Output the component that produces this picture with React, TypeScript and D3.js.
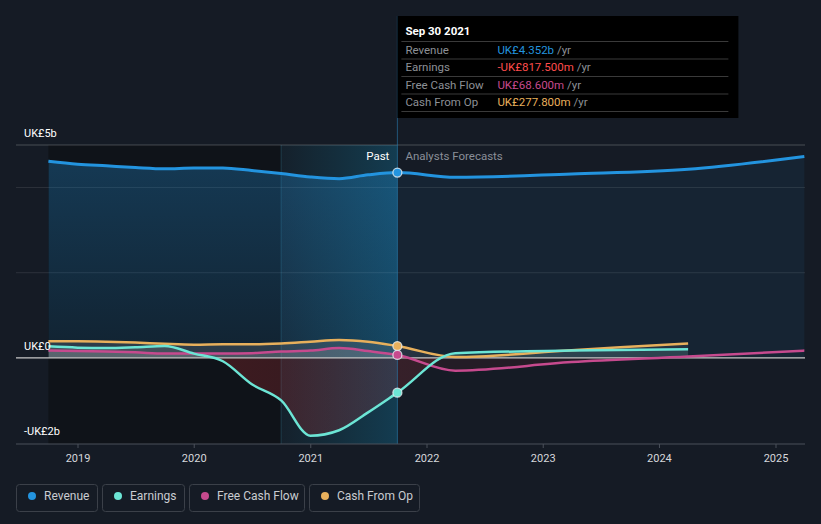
import * as d3 from "d3";

// quarterly history, then analyst forecasts (values in UK£ billions)
const pastDates = [
  "2018-09-30", "2018-12-31", "2019-03-31", "2019-06-30", "2019-09-30",
  "2019-12-31", "2020-03-31", "2020-06-30", "2020-09-30", "2020-12-31",
  "2021-03-31", "2021-06-30", "2021-09-30",
];
const revenuePast = [4.62, 4.55, 4.51, 4.47, 4.44, 4.46, 4.46, 4.4, 4.33, 4.25, 4.21, 4.3, 4.352];
const earningsPast = [0.27, 0.24, 0.23, 0.25, 0.28, 0.1, -0.08, -0.62, -1.0, -1.83, -1.7, -1.28, -0.8175];
const fcfPast = [0.17, 0.16, 0.15, 0.13, 0.1, 0.1, 0.1, 0.11, 0.15, 0.17, 0.23, 0.16, 0.0686];
const cfoPast = [0.39, 0.39, 0.38, 0.36, 0.33, 0.31, 0.32, 0.32, 0.34, 0.38, 0.42, 0.38, 0.2778];

const forecastDates = ["2022-03-31", "2023-03-31", "2024-03-31", "2025-03-31"];
const revenueFc = [4.24, 4.32, 4.43, 4.73];
const earningsFc = [0.11, 0.17, 0.2];
const fcfFc = [-0.3, -0.1, 0.03, 0.17];
const cfoFc = [0.02, 0.18, 0.34];

const yearTicks = [2019, 2020, 2021, 2022, 2023, 2024, 2025];
const yLabels = [
  { v: 5, t: "UK£5b" },
  { v: 0, t: "UK£0" },
  { v: -2, t: "-UK£2b" },
];
const gridValues = [5, 4, 2];

const tooltipRows = [
  { label: "Revenue", value: "UK£4.352b", color: "#2394df" },
  { label: "Earnings", value: "-UK£817.500m", color: "#ff4d4d" },
  { label: "Free Cash Flow", value: "UK£68.600m", color: "#c64a8e" },
  { label: "Cash From Op", value: "UK£277.800m", color: "#e8b05c" },
];

const legend = [
  { name: "Revenue", color: "#2394df" },
  { name: "Earnings", color: "#6ce5d5" },
  { name: "Free Cash Flow", color: "#c64a8e" },
  { name: "Cash From Op", color: "#e8b05c" },
];
const legendWidths = [81, 82, 115, 110];

type Pt = { date: Date; v: number };
const parse = d3.timeParse("%Y-%m-%d");
const toPts = (past: number[], fc: number[]): Pt[] => [
  ...past.map((v, i) => ({ date: parse(pastDates[i])!, v })),
  ...fc.map((v, i) => ({ date: parse(forecastDates[i])!, v })),
];

const revenue = toPts(revenuePast, revenueFc);
const earnings = toPts(earningsPast, earningsFc);
const fcf = toPts(fcfPast, fcfFc);
const cfo = toPts(cfoPast, cfoFc);

export default function App() {
  const W = 821, H = 524;
  const left = 16, right = 805, top = 145, bottom = 444;

  const x = d3.scaleTime()
    .domain([new Date(2019, 0, 1), new Date(2025, 0, 1)])
    .range([78, 776]);
  const y = d3.scaleLinear().domain([-2, 5]).range([443, 145]);

  const line = d3.line<Pt>().x(d => x(d.date)).y(d => y(d.v)).curve(d3.curveMonotoneX);
  const area = d3.area<Pt>().x(d => x(d.date)).y0(y(0)).y1(d => y(d.v)).curve(d3.curveMonotoneX);

  const startX = x(parse(pastDates[0])!);
  const nowDate = parse(pastDates[pastDates.length - 1])!;
  const nowX = x(nowDate);
  const hlX = x(parse("2020-09-30")!);
  const font = "Roboto, 'Noto Sans', sans-serif";

  const series = [
    { data: revenue, color: "#2394df", w: 3 },
    { data: cfo, color: "#e8b05c", w: 2.5 },
    { data: fcf, color: "#c64a8e", w: 2.5 },
    { data: earnings, color: "#6ce5d5", w: 2.5 },
  ];

  let lx = 16;
  const legendBoxes = legend.map((l, i) => {
    const w = legendWidths[i];
    const b = { ...l, x: lx, w };
    lx += w + 5;
    return b;
  });

  return (
    <svg width={W} height={H} style={{ position: "absolute", left: 0, top: 0 }} fontFamily={font}>
      <defs>
        <linearGradient id="hl" x1="0" x2="1" y1="0" y2="0">
          <stop offset="0" stopColor="#0f8aa8" stopOpacity="0.05" />
          <stop offset="1" stopColor="#0f8ab8" stopOpacity="0.3" />
        </linearGradient>
        <linearGradient id="revFill" x1="0" x2="0" y1="0" y2="1">
          <stop offset="0" stopColor="#2394df" stopOpacity="0.3" />
          <stop offset="1" stopColor="#2394df" stopOpacity="0.12" />
        </linearGradient>
        <linearGradient id="negFill" x1="0" x2="1" y1="0" y2="0">
          <stop offset="0" stopColor="#d32f2f" stopOpacity="0.3" />
          <stop offset="0.6" stopColor="#b0333a" stopOpacity="0.2" />
          <stop offset="1" stopColor="#9a8a95" stopOpacity="0.18" />
        </linearGradient>
        <clipPath id="past"><rect x={startX} y={0} width={nowX - startX} height={H} /></clipPath>
        <clipPath id="future"><rect x={nowX} y={0} width={right - nowX} height={H} /></clipPath>
        <clipPath id="below"><rect x={0} y={y(0)} width={W} height={H} /></clipPath>
        <clipPath id="above"><rect x={0} y={0} width={W} height={y(0)} /></clipPath>
      </defs>

      <rect width={W} height={H} fill="#151b25" />
      <rect x={startX} y={top} width={hlX - startX} height={bottom - top} fill="#0e1116" opacity={0.75} />
      <rect x={hlX} y={top} width={nowX - hlX} height={bottom - top} fill="url(#hl)" />
      <line x1={hlX} x2={hlX} y1={top} y2={bottom} stroke="#1f3d4d" strokeWidth={1} />

      {gridValues.map(g => (
        <line key={g} x1={left} x2={right} y1={y(g)} y2={y(g)} stroke="#ffffff" strokeOpacity={g === 5 ? 0.22 : 0.1} />
      ))}

      {/* areas */}
      <g clipPath="url(#past)">
        <path d={area(revenue)!} fill="url(#revFill)" />
      </g>
      <g clipPath="url(#future)">
        <path d={area(revenue)!} fill="#2394df" opacity={0.08} />
      </g>
      <g clipPath="url(#below)">
        <path d={area(earnings)!} fill="url(#negFill)" />
        <path d={area(fcf)!} fill="#d32f2f" opacity={0.08} />
      </g>
      <g clipPath="url(#above)">
        <g clipPath="url(#past)">
          <path d={area(cfo)!} fill="#9aa0a6" opacity={0.2} />
          <path d={area(earnings)!} fill="#9aa0a6" opacity={0.2} />
          <path d={area(fcf)!} fill="#9aa0a6" opacity={0.25} />
        </g>
        <g clipPath="url(#future)">
          <path d={area(cfo)!} fill="#9aa0a6" opacity={0.12} />
          <path d={area(earnings)!} fill="#6ce5d5" opacity={0.1} />
        </g>
      </g>

      <line x1={left} x2={right} y1={y(0)} y2={y(0)} stroke="#c8c8c8" strokeWidth={1.2} />

      {series.map((s, i) => (
        <path key={i} d={line(s.data)!} fill="none" stroke={s.color} strokeWidth={s.w} />
      ))}

      {/* tooltip pointer */}
      <line x1={nowX} x2={nowX} y1={16} y2={bottom} stroke="#2a7fb0" strokeOpacity={0.6} strokeWidth={1} />

      {series.map((s, i) => {
        const p = s.data[pastDates.length - 1];
        return <circle key={i} cx={x(p.date)} cy={y(p.v)} r={4.5} fill={s.color} stroke="#e6eef2" strokeOpacity={0.8} strokeWidth={1.3} />;
      })}

      <text x={nowX - 8} y={160} textAnchor="end" fill="#ffffff" fontSize={11.5}>Past</text>
      <text x={nowX + 8} y={160} fill="#8a8f98" fontSize={11.5}>Analysts Forecasts</text>

      {yLabels.map(l => (
        <text key={l.t} x={24} y={y(l.v) - 8} fill="#ffffff" fontSize={11}>{l.t}</text>
      ))}

      {/* x axis */}
      <line x1={left} x2={right} y1={bottom} y2={bottom} stroke="#4b515b" strokeWidth={1.2} />
      {yearTicks.map(t => {
        const tx = x(new Date(t, 0, 1));
        return (
          <g key={t}>
            <line x1={tx} x2={tx} y1={bottom} y2={bottom + 4} stroke="#4b515b" />
            <text x={tx} y={462} textAnchor="middle" fill="#d5d8dc" fontSize={11}>{t}</text>
          </g>
        );
      })}

      {/* tooltip */}
      <rect x={nowX} y={16} width={341} height={102} fill="#000000" />
      <text x={nowX + 8} y={35} fill="#ffffff" fontSize={11.5} fontWeight="bold">Sep 30 2021</text>
      {tooltipRows.map((r, i) => {
        const sy = 41.5 + i * 17.5;
        return (
          <g key={r.label}>
            <line x1={nowX + 4} x2={nowX + 331} y1={sy} y2={sy} stroke="#3a3a3a" />
            <text x={nowX + 8} y={sy + 12} fill="#8d9096" fontSize={11.5}>{r.label}</text>
            <text x={nowX + 100} y={sy + 12} fontSize={11.5}>
              <tspan fill={r.color}>{r.value}</tspan>
              <tspan fill="#8d9096"> /yr</tspan>
            </text>
          </g>
        );
      })}
      <line x1={nowX + 4} x2={nowX + 331} y1={111.5} y2={111.5} stroke="#3a3a3a" />

      {/* legend */}
      {legendBoxes.map(b => (
        <g key={b.name}>
          <rect x={b.x + 0.5} y={484.5} width={b.w} height={27} rx={3} fill="none" stroke="#3b4049" />
          <circle cx={b.x + 16} cy={496} r={4} fill={b.color} />
          <text x={b.x + 28} y={500} fill="#c9ccd1" fontSize={12}>{b.name}</text>
        </g>
      ))}
    </svg>
  );
}
